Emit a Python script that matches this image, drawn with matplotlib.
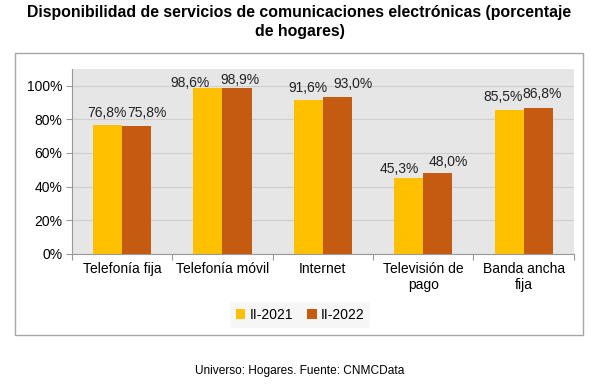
import matplotlib.pyplot as plt
import numpy as np
from matplotlib.patches import Rectangle

plt.rcParams['font.family'] = ['Liberation Sans', 'DejaVu Sans']

# Data
categorias = ["Telefonía fija", "Telefonía móvil", "Internet", "Televisión de\npago", "Banda ancha\nfija"]
serie_2021 = [76.8, 98.6, 91.6, 45.3, 85.5]
serie_2022 = [75.8, 98.9, 93.0, 48.0, 86.8]
etiquetas_2021 = ["76,8%", "98,6%", "91,6%", "45,3%", "85,5%"]
etiquetas_2022 = ["75,8%", "98,9%", "93,0%", "48,0%", "86,8%"]
yticks = [0, 20, 40, 60, 80, 100]

# label nudges (pixels), as placed in the original
dx_2021 = [-1, -18, 0, -9, -6]
dy_2021 = [8, 1, 8, 5, 9]
dx_2022 = [10, 3, 16, 11, 4]
dy_2022 = [9, 4, 9, 7, 10]

fig = plt.figure(figsize=(5.99, 3.87), dpi=100)
ax = fig.add_axes([0.120, 0.344, 0.838, 0.478])

# outer frame
fig.patches.append(Rectangle((15/599, 1-335/387), (583-15)/599, (335-53)/387,
                             transform=fig.transFigure, fill=False,
                             edgecolor='#a6a6a6', linewidth=1.0))

x = np.arange(len(categorias))
w = 0.29
b1 = ax.bar(x - w/2, serie_2021, w, color='#FFC000', label='II-2021', zorder=3)
b2 = ax.bar(x + w/2, serie_2022, w, color='#C55A11', label='II-2022', zorder=3)

for bars, labels, dxs, dys in [(b1, etiquetas_2021, dx_2021, dy_2021),
                               (b2, etiquetas_2022, dx_2022, dy_2022)]:
    for rect, t, dx, dy in zip(bars, labels, dxs, dys):
        ax.annotate(t, (rect.get_x() + rect.get_width()/2, rect.get_height()),
                    xytext=(dx, dy), textcoords='offset pixels',
                    ha='center', va='baseline', fontsize=10, color='#222222')

ax.set_facecolor('#e6e6e6')
ax.set_xlim(-0.5, len(categorias) - 0.5)
ax.set_ylim(0, 110)
ax.set_yticks(yticks)
ax.set_yticklabels([f"{v}%" for v in yticks], fontsize=10)
ax.yaxis.grid(True, color='#cfcfcf', linewidth=0.8, zorder=0)
ax.set_axisbelow(True)

ax.set_xticks(np.arange(len(categorias) + 1) - 0.5)
ax.set_xticklabels([])
ax.set_xticks(x, minor=True)
ax.set_xticklabels(categorias, minor=True, fontsize=10)
ax.tick_params(axis='x', which='minor', length=0, pad=6)
ax.tick_params(axis='x', which='major', length=4, color='#999999')
ax.tick_params(axis='y', length=4, color='#999999', pad=3)

for s in ['top', 'right']:
    ax.spines[s].set_visible(False)
ax.spines['left'].set_color('#999999')
ax.spines['bottom'].set_color('#999999')

leg = fig.legend(loc='center', bbox_to_anchor=(300/599, 1-315/387), ncol=2,
                 fontsize=10, frameon=True, handlelength=0.7, handleheight=0.7,
                 handletextpad=0.3, columnspacing=1.0, borderpad=0.4)
leg.get_frame().set_facecolor('#f4f4f4')
leg.get_frame().set_edgecolor('none')

fig.text(0.5, 1-5/387, "Disponibilidad de servicios de comunicaciones electrónicas (porcentaje\nde hogares)",
         ha='center', va='top', fontsize=11.45, fontweight='bold', linespacing=1.3)
fig.text(300/599, 1-371/387, "Universo: Hogares. Fuente: CNMCData", ha='center', va='center', fontsize=8.6)

fig.savefig('out.png', dpi=100)
